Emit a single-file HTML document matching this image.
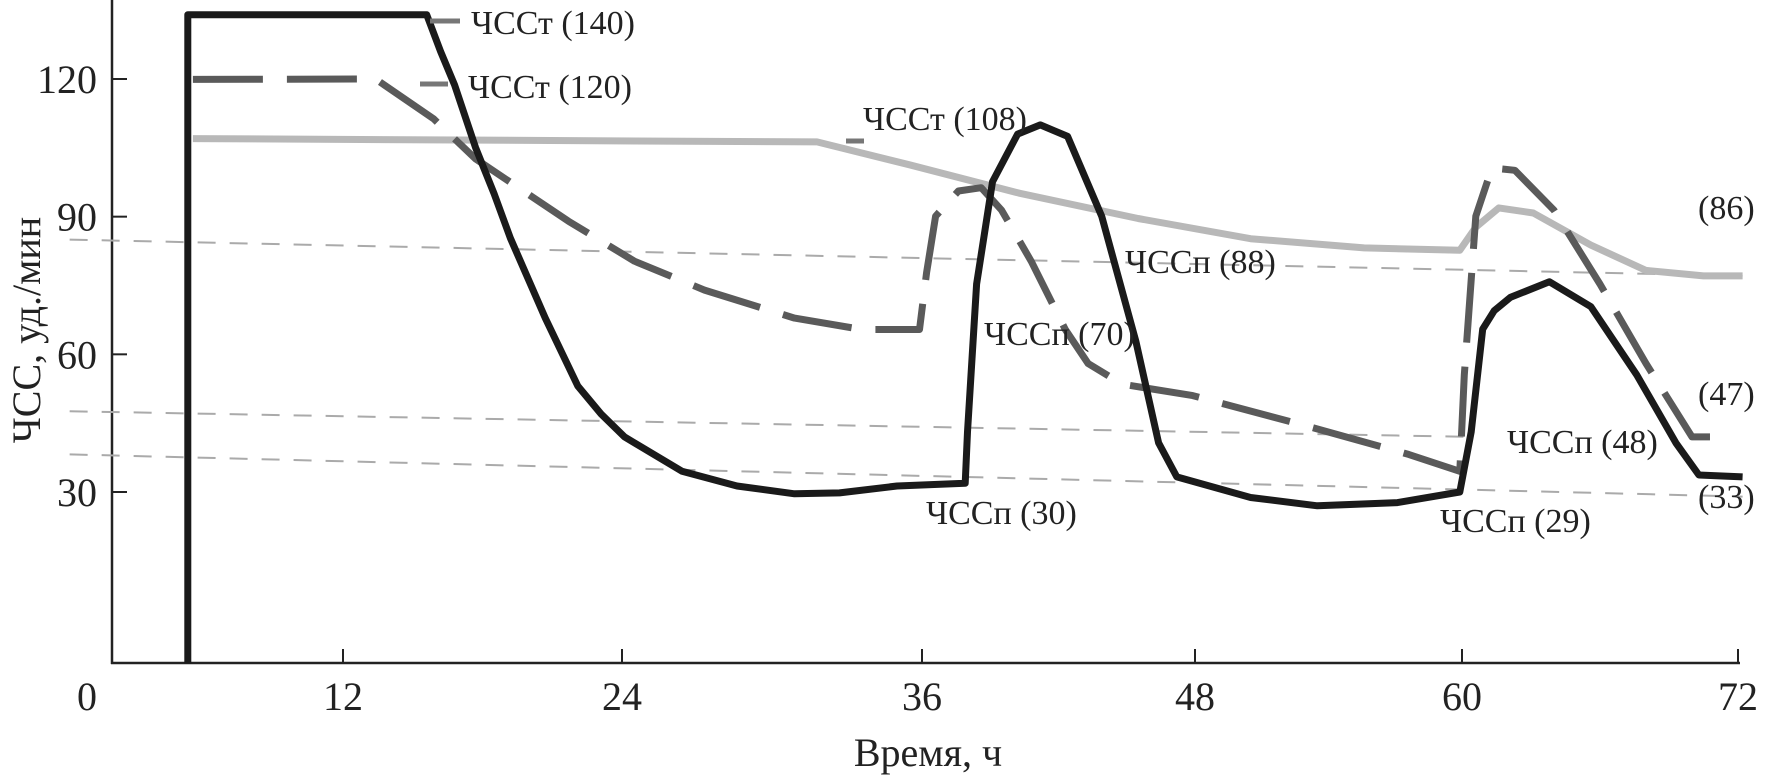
<!DOCTYPE html>
<html><head><meta charset="utf-8"><style>
html,body{margin:0;padding:0;background:#fff;}
svg{display:block;font-family:"Liberation Serif","DejaVu Serif",serif;}
</style></head><body>
<svg id="chart" width="1777" height="778" viewBox="0 0 1777 778" xmlns="http://www.w3.org/2000/svg">
<g id="axes"></g>
<g id="refs"></g>
<g id="series"></g>
<g id="labels"></g>
</svg>
<script>
const xTicks = [0, 12, 24, 36, 48, 60, 72];
const yTicks = [30, 60, 90, 120];
const blackX = [3.94,3.94,15.6,16.2,16.8,17.7,18.5,19.2,20.7,22.1,23.1,24.1,26.4,28.6,30.9,32.7,35.0,37.9,38.0,38.4,39.1,40.2,41.2,42.4,43.9,45.4,46.4,47.2,50.5,53.5,57.1,59.9,60.4,60.9,61.4,62.1,63.8,65.6,67.6,69.3,70.3,72.2];
const blackY = [-7.3,134,134,126,118.7,105.1,95,85.3,67.9,53.1,47,42,34.5,31.3,29.6,29.8,31.3,31.9,43.1,75.3,97.6,108,110,107.5,90.1,62.9,40.7,33.3,28.8,27.0,27.7,30,43.1,65.5,69.5,72.4,75.8,70.4,55.5,40.7,33.7,33.3];
const dashX = [4.2,13.4,15.9,17.7,21.7,24.5,27.3,30.9,33.6,35.9,36.2,36.6,37.6,38.6,39.5,40.8,42.3,43.3,44.8,47.9,53.0,57.6,59.9,60.1,60.6,61.3,62.3,64.0,66.0,68.0,70.0,71.8];
const dashY = [119.9,120,111.3,102.6,89,80.3,74,67.9,65.4,65.4,77.8,90.1,95.6,96.3,91.4,80.3,65.4,58,53.5,51,44.4,38.2,34.5,55.5,90.1,100.6,100.1,91.4,75.3,58,42,42];
const grayX = [4.2,31.8,35.5,40.3,45.5,50.5,55.6,59.9,60.6,61.6,63.1,65.6,68.0,70.5,72.2];
const grayY = [107,106.3,101.3,95.1,89.6,85.2,83.2,82.7,87.7,91.9,90.8,83.8,78.3,77.1,77.1];
const refStartX = [-2.2,-2.2,-2.2];
const refEndX = [72.2,60.5,72.2];
const refStartY = [85,47.6,38.2];
const refEndY = [77.1,42,29.0];

const NS = "http://www.w3.org/2000/svg";
const xPix = [112,343,622,922,1195,1462,1738];
function X(h){
  let i = 0;
  if (h <= xTicks[0]) i = 0;
  else if (h >= xTicks[xTicks.length-1]) i = xTicks.length-2;
  else { while (h > xTicks[i+1]) i++; }
  const t = (h - xTicks[i])/(xTicks[i+1]-xTicks[i]);
  return xPix[i] + t*(xPix[i+1]-xPix[i]);
}
function Y(v){ return 492 - (v-30)*4.589; }
function mk(tag, attrs, parent){
  const e = document.createElementNS(NS, tag);
  for (const k in attrs) e.setAttribute(k, attrs[k]);
  parent.appendChild(e); return e;
}
const axes = document.getElementById('axes');
let el;
el = mk('line',{x1:112,y1:0,x2:112,y2:664,stroke:'#222','stroke-width':2.5},axes);


el = mk('line',{x1:111,y1:663,x2:1740,y2:663,stroke:'#222','stroke-width':2.5},axes);


xTicks.forEach((t,i)=>{
  const x = X(t);
  if (i>0){
    const tk = mk('line',{x1:x,y1:663,x2:x,y2:649,stroke:'#222','stroke-width':2},axes);
    
    
  }
  const lb = mk('text',{x: i===0 ? 87 : x, y:710,'font-size':40,'text-anchor':'middle',fill:'#222'},axes);
  lb.textContent = t;
  
  
});
yTicks.forEach(t=>{
  const y = Y(t);
  const tk = mk('line',{x1:112,y1:y,x2:127,y2:y,stroke:'#222','stroke-width':2},axes);
  
  
  const lb = mk('text',{x:97,y:y+14,'font-size':40,'text-anchor':'end',fill:'#222'},axes);
  lb.textContent = t;
  
  
});
el = mk('text',{x:928,y:766,'font-size':40,'text-anchor':'middle',fill:'#222'},axes);
el.textContent = 'Время, ч';


el = mk('text',{x:0,y:0,'font-size':40,'text-anchor':'middle',fill:'#222',transform:'translate(40,330) rotate(-90)'},axes);
el.textContent = 'ЧСС, уд./мин';



const refs = document.getElementById('refs');
for (let i=0;i<refStartX.length;i++){
  const r = mk('line',{x1:X(refStartX[i]),y1:Y(refStartY[i]),x2:X(refEndX[i]),y2:Y(refEndY[i]),stroke:'#aaa','stroke-width':2,'stroke-dasharray':'18 14'},refs);
  
  
}
function pts(xs,ys){ return xs.map((h,i)=>X(h).toFixed(1)+','+Y(ys[i]).toFixed(1)).join(' '); }
const series = document.getElementById('series');
el = mk('polyline',{points:pts(grayX,grayY),fill:'none',stroke:'#b8b8b8','stroke-width':7,'stroke-linejoin':'round'},series);


el = mk('polyline',{points:pts(dashX,dashY),fill:'none',stroke:'#5a5a5a','stroke-width':7,'stroke-dasharray':'70 24','stroke-linejoin':'round'},series);


el = mk('polyline',{points:pts(blackX,blackY),fill:'none',stroke:'#1a1a1a','stroke-width':7,'stroke-linejoin':'round'},series);



const labels = document.getElementById('labels');
const labelText = ['ЧССт (140)','ЧССт (120)','ЧССт (108)','ЧССп (88)','ЧССп (70)','ЧССп (48)','ЧССп (30)','ЧССп (29)','(86)','(47)','(33)'];
const labelPos = [[471,34],[468,98],[863,130],[1125,273],[984,345],[1507,453],[926,524],[1440,532],[1698,219],[1698,405],[1698,508]];
labelText.forEach((t,i)=>{
  const lb = mk('text',{x:labelPos[i][0],y:labelPos[i][1],'font-size':34,fill:'#222'},labels);
  lb.textContent = t;
  
  
});
[[430,460,21],[420,448,84],[846,864,141]].forEach(d=>{
  const c = mk('line',{x1:d[0],y1:d[2],x2:d[1],y2:d[2],stroke:'#777','stroke-width':5},labels);
  
  
});
</script>
</body></html>
